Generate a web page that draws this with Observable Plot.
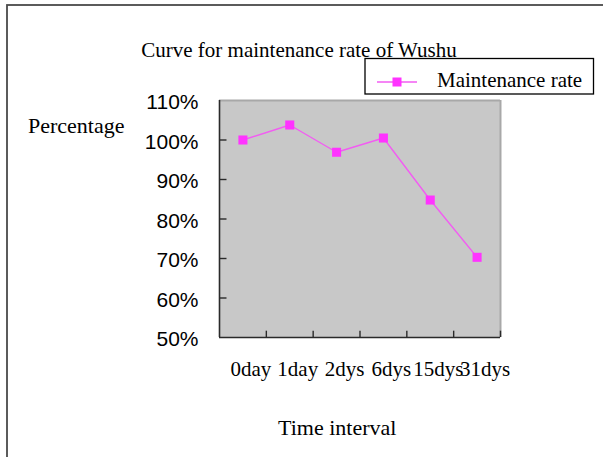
<!DOCTYPE html>
<html>
<head>
<meta charset="utf-8">
<script src="https://cdn.jsdelivr.net/npm/d3@7"></script>
<script src="https://cdn.jsdelivr.net/npm/@observablehq/plot@0.6"></script>
<style>
  html, body { margin: 0; padding: 0; background: #fff; }
  svg { display: block; }
</style>
</head>
<body>
<div id="chart"></div>
<script>
const categories = ["0day", "1day", "2dys", "6dys", "15dys", "31dys"];
const rates = [100.0, 103.8, 96.9, 100.5, 84.8, 70.3];
const yTicks = [50, 60, 70, 80, 90, 100, 110];
const title = "Curve for maintenance rate of Wushu";
const seriesName = "Maintenance rate";
const yTitle = "Percentage";
const xTitle = "Time interval";

const data = categories.map((c, i) => ({cat: c, idx: i + 0.5, rate: rates[i]}));
const centers = categories.map((c, i) => i + 0.5);
const boundaries = categories.map((c, i) => i + 1);

const lineColor = "#f25cf2";
const markColor = "#ff33ff";

const chart = Plot.plot({
  width: 603,
  height: 457,
  marginLeft: 219,
  marginRight: 103,
  marginTop: 100,
  marginBottom: 120,
  style: {fontFamily: "'Liberation Serif', 'Times New Roman', serif", background: "transparent"},
  x: {type: "linear", domain: [0, categories.length], axis: null},
  y: {type: "linear", domain: [50, 110], axis: null},
  marks: [
    Plot.frame({fill: "#c8c8c8", stroke: null}),
    Plot.ruleY([110], {stroke: "#a8a8a8", strokeWidth: 2}),
    Plot.ruleX([categories.length], {stroke: "#a8a8a8", strokeWidth: 2}),
    Plot.ruleX([0], {stroke: "#2a2a2a", strokeWidth: 1.6}),
    Plot.ruleY([50], {stroke: "#2a2a2a", strokeWidth: 1.6}),
    Plot.ruleY(yTicks.slice(1, -1), {y: d => d, x1: 0, x2: 0.16, stroke: "#2a2a2a", strokeWidth: 1.4}),
    Plot.ruleX(boundaries, {x: d => d, y1: 50, y2: 51.6, stroke: "#2a2a2a", strokeWidth: 1.4}),
    Plot.axisY({
      ticks: yTicks, tickFormat: d => d + "%", tickSize: 0, tickPadding: 21,
      fontSize: 21, fontFamily: "'Liberation Sans', Arial, sans-serif", fill: "#000", dy: 2, label: null
    }),
    Plot.axisX({
      ticks: centers, tickFormat: v => categories[Math.round(v - 0.5)], tickSize: 0, tickPadding: 24,
      fontSize: 21, fontFamily: "'Liberation Serif', 'Times New Roman', serif", fill: "#000", dx: 8, label: null
    }),
    Plot.line(data, {x: "idx", y: "rate", stroke: lineColor, strokeWidth: 1.4}),
    Plot.dot(data, {x: "idx", y: "rate", symbol: "square", r: 5.1, fill: markColor, stroke: null})
  ]
});

document.getElementById("chart").appendChild(chart);

const svg = d3.select(chart);
const serif = "'Liberation Serif', 'Times New Roman', serif";

// Outer frame (cropped on right/bottom)
svg.insert("rect", ":first-child")
  .attr("x", 7).attr("y", 5).attr("width", 700).attr("height", 700)
  .attr("fill", "none").attr("stroke", "#4a4a4a").attr("stroke-width", 1.8);

function addText(parent, str, x, y, size, anchor) {
  return parent.append("text").text(str)
    .attr("x", x).attr("y", y)
    .attr("text-anchor", anchor)
    .attr("font-family", serif).attr("font-size", size)
    .attr("fill", "#000").attr("stroke", "none");
}

addText(svg, title, 299, 56.5, 21, "middle");

// Legend
const lg = svg.append("g");
lg.append("rect").attr("x", 365).attr("y", 58.5).attr("width", 228.5).attr("height", 35.5)
  .attr("fill", "#fff").attr("stroke", "#000").attr("stroke-width", 1.3);
lg.append("line").attr("x1", 377).attr("x2", 417).attr("y1", 82).attr("y2", 82)
  .attr("stroke", lineColor).attr("stroke-width", 1.4);
lg.append("rect").attr("x", 392.5).attr("y", 77.5).attr("width", 9).attr("height", 9)
  .attr("fill", markColor).attr("stroke", "none");
addText(lg, seriesName, 437, 87, 21, "start");

addText(svg, yTitle, 28, 133, 22, "start");
addText(svg, xTitle, 278, 435, 22, "start");
</script>
</body>
</html>
